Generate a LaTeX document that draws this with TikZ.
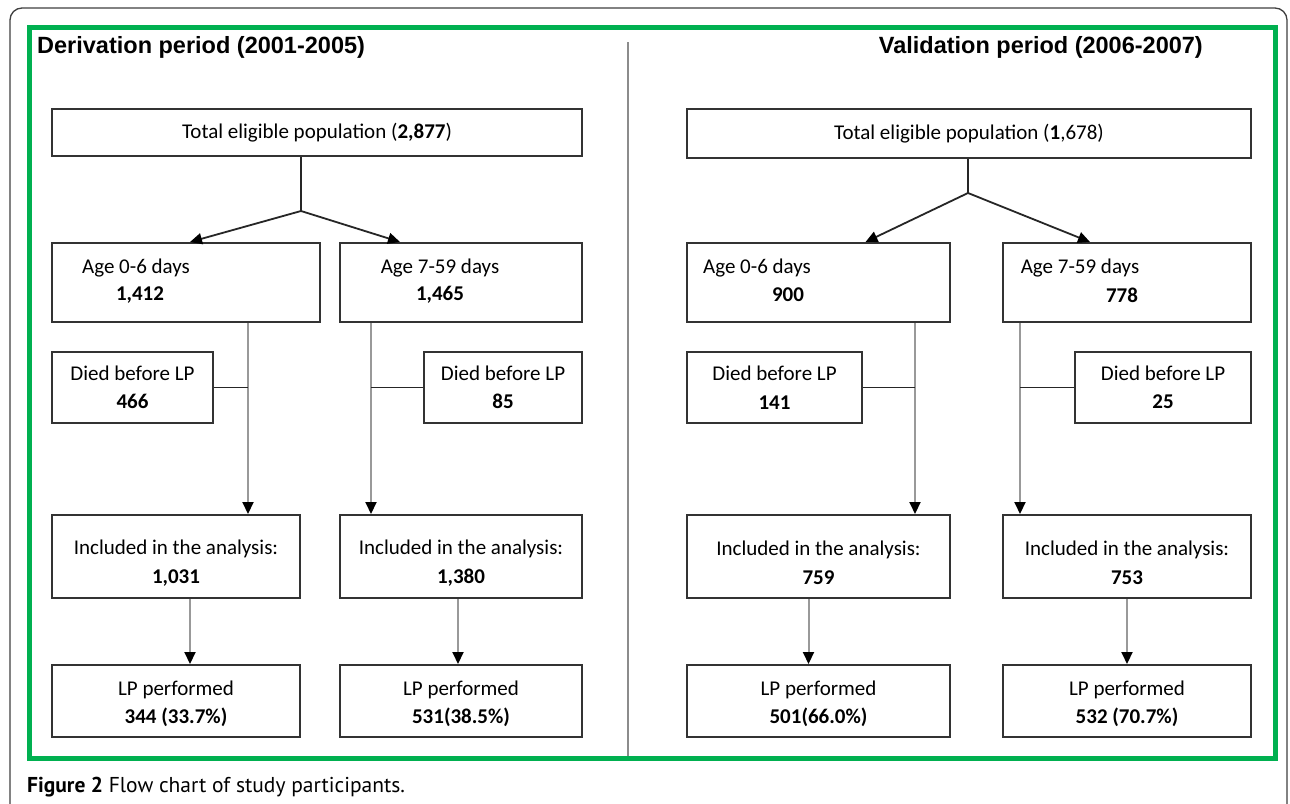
\documentclass[tikz,border=0pt]{standalone}
\usepackage{fontspec}
\setmainfont{Carlito}
\newfontfamily\headfont{Liberation Sans}
\newfontfamily\capfont{PT Sans}
\usetikzlibrary{positioning, arrows.meta}
\definecolor{framegreen}{RGB}{0,176,80}
\definecolor{boxline}{RGB}{51,51,51}

\begin{document}
\begin{tikzpicture}[
		x=1pt, y=-1pt,
		>={Triangle[length=12pt, width=11pt, color=black]},
		box/.style={draw=boxline, line width=2pt, rectangle, align=center, inner sep=0pt, font=\fontsize{21}{28.5}\selectfont},
		txt/.style={inner sep=0pt, align=center, font=\fontsize{21}{28.5}\selectfont},
		link/.style={draw=black!85, line width=1.8pt},
		drop/.style={draw=black!40, line width=2pt, ->},
		head/.style={inner sep=0pt, font=\headfont\bfseries\fontsize{23.5}{27}\selectfont},
	]
	\useasboundingbox (0,0) rectangle (1290,803);
	\fill[white] (0,0) rectangle (1290,803);
	\draw[black!75, line width=1.3pt, rounded corners=12pt] (10,812) -- (10,8) -- (1287,8) -- (1287,812);
	\draw[framegreen, line width=5pt] (29.5,27.5) rectangle (1275.5,758.5);
	\draw[black!45, line width=1.4pt] (628,42) -- (628,756);

	\node[head, anchor=west] (lhead) at (37,47) {Derivation period (2001-2005)};
	\node[head, anchor=east] (rhead) at (1203,47) {Validation period (2006-2007)};

	% derivation
	\node[box, minimum width=530pt, minimum height=47pt] (ltot) at (317,132.5) {Total eligible population (\textbf{2,877})};
	\coordinate (ljoin) at (301,211);
	\node[box, minimum width=268pt, minimum height=79pt] (lage0) at (186,282.5) {};
	\node[box, minimum width=242pt, minimum height=79pt] (lage1) at (461,282.5) {};
	\node[txt] (lage0a) at (136,268) {Age 0-6 days};
	\node[txt] (lage0b) at (140,295) {\textbf{1,412}};
	\node[txt] (lage1a) at (440,268) {Age 7-59 days};
	\node[txt] (lage1b) at (440,295) {\textbf{1,465}};
	\node[box, minimum width=161pt, minimum height=71pt] (ldied0) at (132.5,387.5) {Died before LP\\\textbf{466}};
	\node[box, minimum width=158pt, minimum height=71pt] (ldied1) at (503,387.5) {Died before LP\\\textbf{85}};
	\node[box, minimum width=248pt, minimum height=83pt] (linc0) at (176,556.5) {};
	\node[box, minimum width=242pt, minimum height=83pt] (linc1) at (461,556.5) {};
	\node[txt] (linc0t) at (176,563) {Included in the analysis:\\\textbf{1,031}};
	\node[txt] (linc1t) at (461,563) {Included in the analysis:\\\textbf{1,380}};
	\node[box, minimum width=248pt, minimum height=72pt] (llp0) at (176,701) {};
	\node[box, minimum width=242pt, minimum height=72pt] (llp1) at (461,701) {};
	\node[txt] (llp0t) at (176,704) {LP performed\\\textbf{344 (33.7\%)}};
	\node[txt] (llp1t) at (461,704) {LP performed\\\textbf{531(38.5\%)}};
	\coordinate (lcut0) at (248,387.5);
	\coordinate (lcut1) at (371,387.5);

	% validation
	\node[box, minimum width=564pt, minimum height=49pt] (rtot) at (969,133.5) {Total eligible population (\textbf{1},678)};
	\coordinate (rjoin) at (968,193);
	\node[box, minimum width=263pt, minimum height=79pt] (rage0) at (818.5,282.5) {};
	\node[box, minimum width=248pt, minimum height=79pt] (rage1) at (1127,282.5) {};
	\node[txt] (rage0a) at (757,268) {Age 0-6 days};
	\node[txt] (rage0b) at (788,295) {\textbf{900}};
	\node[txt] (rage1a) at (1080,268) {Age 7-59 days};
	\node[txt] (rage1b) at (1122,295) {\textbf{778}};
	\node[box, minimum width=175pt, minimum height=71pt] (rdied0) at (774.5,387.5) {Died before LP\\\textbf{141}};
	\node[box, minimum width=176pt, minimum height=71pt] (rdied1) at (1163,387.5) {Died before LP\\\textbf{25}};
	\node[box, minimum width=263pt, minimum height=83pt] (rinc0) at (818.5,556.5) {};
	\node[box, minimum width=248pt, minimum height=83pt] (rinc1) at (1127,556.5) {};
	\node[txt] (rinc0t) at (818.5,563) {Included in the analysis:\\\textbf{759}};
	\node[txt] (rinc1t) at (1127,563) {Included in the analysis:\\\textbf{753}};
	\node[box, minimum width=263pt, minimum height=72pt] (rlp0) at (818.5,701) {};
	\node[box, minimum width=248pt, minimum height=72pt] (rlp1) at (1127,701) {};
	\node[txt] (rlp0t) at (818.5,704) {LP performed\\\textbf{501(66.0\%)}};
	\node[txt] (rlp1t) at (1127,704) {LP performed\\\textbf{532 (70.7\%)}};
	\coordinate (rcut0) at (915,387.5);
	\coordinate (rcut1) at (1020,387.5);

	\draw[link] (ltot.south -| ljoin) -- (ljoin);
	\draw[link] (rtot.south -| rjoin) -- (rjoin);
	\foreach \j/\n/\s in {ljoin/lage0/4pt, ljoin/lage1/-61pt, rjoin/rage0/47pt, rjoin/rage1/-37pt}
		\draw[link, ->] (\j) -- ([xshift=\s]\n.north);

	\foreach \a/\c/\b in {lage0/lcut0/linc0, lage1/lcut1/linc1, rage0/rcut0/rinc0, rage1/rcut1/rinc1}
		\draw[drop] (\a.south -| \c) -- (\b.north -| \c);
	\foreach \d/\c in {ldied0/lcut0, ldied1/lcut1, rdied0/rcut0, rdied1/rcut1}
		\draw[link] (\d) -- (\c);

	\foreach \i/\j/\s in {linc0/llp0/14pt, linc1/llp1/-3pt, rinc0/rlp0/-10pt, rinc1/rlp1/0pt}
		\draw[drop] ([xshift=\s]\i.south) -- ([xshift=\s]\j.north);

	\node[anchor=west, inner sep=0pt, font=\capfont\fontsize{21.5}{24}\selectfont] (caption) at (27,787) {\textbf{Figure 2} Flow chart of study participants.};
\end{tikzpicture}
\end{document}
